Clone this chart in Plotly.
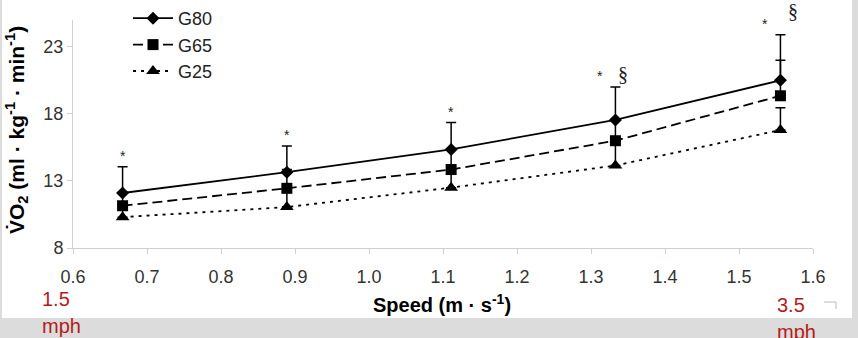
import plotly.graph_objects as go

W, H = 858, 338

speed = [0.667, 0.889, 1.111, 1.333, 1.556]
g80 = [12.1, 13.65, 15.35, 17.55, 20.5]
g80_sd = [1.95, 1.95, 2.0, 2.45, 3.4]
g65 = [11.15, 12.45, 13.85, 16.0, 19.35]
g65_sd = [1.0, 1.4, 1.5, 1.6, 2.65]
g25 = [10.3, 11.05, 12.5, 14.15, 16.8]
g25_sd = [0.8, 1.35, 1.35, 1.85, 1.65]

x_ticks = [0.6, 0.7, 0.8, 0.9, 1.0, 1.1, 1.2, 1.3, 1.4, 1.5, 1.6]
y_ticks = [8, 13, 18, 23]

# significance marks: (speed index, star, section)
sig_star = [0, 1, 2, 3, 4]
sig_sect = [3, 4]

def px(x):
    return x / W

def py(y):
    return 1 - y / H

fig = go.Figure()

series = [
    ("G25", g25, g25_sd, "triangle-up", 12, "3px,5px"),
    ("G65", g65, g65_sd, "square", 11, "10px,5px"),
    ("G80", g80, g80_sd, "diamond", 10, "solid"),
]
for name, ys, sd, sym, ms, dash in series:
    fig.add_trace(go.Scatter(
        x=speed, y=ys, name=name, legendgroup=name,
        mode="lines+markers",
        line=dict(color="black", width=1.8, dash=dash),
        marker=dict(symbol=sym, size=ms, color="black", line=dict(width=0)),
        error_y=dict(type="data", array=sd, arrayminus=[0] * len(sd),
                     symmetric=False, color="black", thickness=1.5, width=5),
    ))

ann = []
for i in sig_star:
    top = g80[i] + g80_sd[i]
    xs = -15 if i in sig_sect else 0
    ann.append(dict(x=speed[i], y=top, xref="x", yref="y", text="*",
                    showarrow=False, xshift=xs, yshift=11,
                    xanchor="center", yanchor="middle",
                    font=dict(family="Liberation Sans", size=14, color="#222222")))
for i in sig_sect:
    top = g80[i] + g80_sd[i]
    ann.append(dict(x=speed[i], y=top, xref="x", yref="y", text="§",
                    showarrow=False, xshift=13 if i == 4 else 8,
                    yshift=24 if i == 4 else 13,
                    xanchor="center", yanchor="middle",
                    font=dict(family="Liberation Serif", size=20, color="#222222")))

# axis titles
ann.append(dict(x=px(442), y=py(303), xref="paper", yref="paper",
                xanchor="center", yanchor="middle",
                text="<b>Speed (m · s<sup>-1</sup>)</b>", showarrow=False,
                font=dict(family="Liberation Sans", size=20, color="black")))
ann.append(dict(x=px(16), y=py(130), xref="paper", yref="paper",
                xanchor="center", yanchor="middle",
                text="<b>V\u0307O<sub>2</sub> (ml · kg<sup>-1</sup> · min<sup>-1</sup>)</b>",
                textangle=-90, showarrow=False,
                font=dict(family="Liberation Sans", size=21, color="black")))
# mph labels
for xx, yy in [(40, 299), (775, 305)]:
    t1 = "1.5" if xx < 400 else "3.5"
    ann.append(dict(x=px(xx), y=py(yy), xref="paper", yref="paper", text=t1,
                    showarrow=False, xanchor="left", yanchor="middle",
                    font=dict(family="Liberation Sans", size=20, color="#b31b1b")))
    ann.append(dict(x=px(xx), y=py(yy + 27), xref="paper", yref="paper", text="mph",
                    showarrow=False, xanchor="left", yanchor="middle",
                    font=dict(family="Liberation Sans", size=20, color="#b31b1b")))

shapes = [
    dict(type="rect", xref="paper", yref="paper", x0=0, x1=1, y0=0, y1=py(318),
         line=dict(width=0), fillcolor="#dcdcdc", layer="below"),
    dict(type="rect", xref="paper", yref="paper", x0=px(852), x1=1, y0=0, y1=1,
         line=dict(width=0), fillcolor="#dcdcdc", layer="below"),
    dict(type="rect", xref="paper", yref="paper", x0=0, x1=px(2), y0=0, y1=1,
         line=dict(width=0), fillcolor="#dcdcdc", layer="below"),
    dict(type="path", xref="paper", yref="paper",
         path=f"M {px(824)} {py(302)} L {px(836)} {py(302)} L {px(836)} {py(309)}",
         line=dict(color="#bbbbbb", width=1)),
]

fig.update_layout(
    width=W, height=H,
    margin=dict(l=0, r=0, t=0, b=0, pad=0, autoexpand=False),
    paper_bgcolor="white", plot_bgcolor="white",
    font=dict(family="Liberation Sans", size=18, color="#333333"),
    xaxis=dict(domain=[px(73), px(813)], range=[0.6, 1.6], tickvals=x_ticks,
               tickformat=".1f", showgrid=False, zeroline=False, automargin=False,
               showline=True, linecolor="#d0d0d0", linewidth=1,
               ticks="outside", ticklen=5, tickcolor="#d0d0d0",
               tickfont=dict(size=18, color="#333333"), ticklabelstandoff=7),
    yaxis=dict(domain=[py(248), py(20)], range=[8, 25], tickvals=y_ticks,
               showgrid=False, zeroline=False, automargin=False,
               showline=True, linecolor="#d0d0d0", linewidth=1,
               ticks="outside", ticklen=5, tickcolor="#d0d0d0",
               tickfont=dict(size=18, color="#333333")),
    showlegend=True,
    legend=dict(x=px(128), y=py(0), xanchor="left", yanchor="top",
                traceorder="reversed", tracegroupgap=11, itemwidth=40,
                bgcolor="rgba(0,0,0,0)",
                font=dict(family="Liberation Sans", size=18, color="#222222")),
    annotations=ann, shapes=shapes,
)

fig.write_html("out.html")
